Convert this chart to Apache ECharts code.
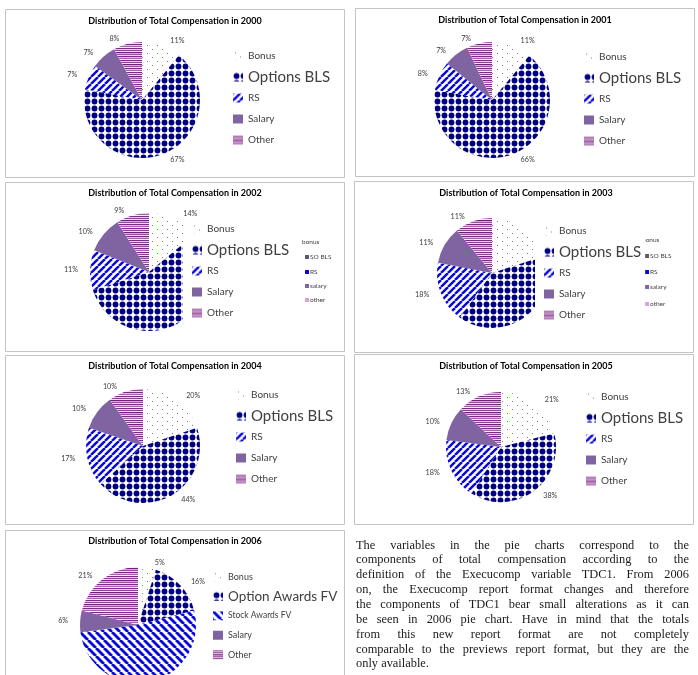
<!DOCTYPE html>
<html>
<head>
<meta charset="utf-8">
<script src="https://cdn.jsdelivr.net/npm/echarts@6/dist/echarts.min.js"></script>
<style>
  body { margin: 0; background: #fff; }
  #page { position: relative; width: 698px; height: 675px; overflow: hidden; }
  #chart { position: absolute; left: 0; top: 0; width: 698px; height: 675px; }
  #note { position: absolute; left: 356px; top: 537.6px; width: 333px;
          font-family: 'Liberation Serif', serif; font-size: 12.4px; color: #1a1a1a; }
  #note div { height: 14.85px; line-height: 14.85px; white-space: nowrap; text-align: justify; text-align-last: justify; }
  #note div.last { text-align-last: left; }
</style>
</head>
<body>
<div id="page">
  <div id="chart"></div>
  <div id="note"></div>
</div>
<script>
  // data (percent of total compensation)
  const years = ['2000', '2001', '2002', '2003', '2004', '2005', '2006']
  const names = ['Bonus', 'Options BLS', 'RS', 'Salary', 'Other']
  const names2006 = ['Bonus', 'Option Awards FV', 'Stock Awards FV', 'Salary', 'Other']
  const bonus   = [11, 11, 14, 20, 20, 21, 5]
  const options = [67, 66, 56, 40, 44, 38, 16]
  const rs      = [7, 8, 11, 18, 17, 18, 52]
  const salary  = [7, 7, 10, 11, 10, 10, 6]
  const other   = [8, 7, 9, 11, 10, 13, 21]
  const oldLegendNames = ['bonus', 'SO BLS', 'RS', 'salary', 'other']

  const noteLines = [
    'The variables in the pie charts correspond to the',
    'components of total compensation according to the',
    'definition of the Execucomp variable TDC1. From 2006',
    'on, the Execucomp report format changes and therefore',
    'the components of TDC1 bear small alterations as it can',
    'be seen in 2006 pie chart. Have in mind that the totals',
    'from this new report format are not completely',
    'comparable to the previews report format, but they are the',
    'only available.'
  ]

  // panel layout: box, title top, pie centre/radius, legend position
  const panels = [
    { box: [5, 9, 339, 168],   title: [175, 17],   center: [142, 100], r: 58, lg: [224, 44.5, 21],  hide: [] },
    { box: [355, 8, 339, 168], title: [525, 16],   center: [492, 100], r: 58, lg: [575, 45.5, 21],  hide: [] },
    { box: [5, 182, 339, 169], title: [175, 189],  center: [149, 272], r: 59, lg: [183, 217.5, 21], hide: [1], bg: true },
    { box: [354, 181, 339, 171], title: [526, 189], center: [492, 273], r: 55, lg: [535, 219.5, 21], hide: [0, 1], bg: true },
    { box: [5, 355, 339, 169], title: [175, 362],  center: [143, 446], r: 57, lg: [227, 383.5, 21], hide: [] },
    { box: [354, 354, 339, 170], title: [526, 362], center: [501, 447], r: 55, lg: [577, 385.5, 21], hide: [] },
    { box: [5, 530, 339, 160], title: [175, 537],  center: [138, 625], r: 58, lg: [204, 566, 19.5], hide: [2] }
  ]

  function pattern(w, h, draw) {
    const c = document.createElement('canvas')
    c.width = w
    c.height = h
    const ctx = c.getContext('2d')
    ctx.fillStyle = '#fff'
    ctx.fillRect(0, 0, w, h)
    draw(ctx, w, h)
    return { image: c, repeat: 'repeat' }
  }

  function stripes(size, back) {
    return pattern(size, size, (ctx, w, h) => {
      ctx.strokeStyle = '#0a0ad8'
      ctx.lineWidth = size * 0.36
      for (let k = -1; k <= 1; k++) {
        ctx.beginPath()
        if (back) {
          ctx.moveTo(k * w, 0)
          ctx.lineTo(k * w + w, h)
        } else {
          ctx.moveTo(k * w, h)
          ctx.lineTo(k * w + w, 0)
        }
        ctx.stroke()
      }
    })
  }

  const bonusFill = pattern(10, 8, ctx => {
    ctx.fillStyle = '#7a7a7a'
    ctx.fillRect(2, 1, 1, 1)
    ctx.fillRect(7, 5, 1, 1)
  })
  const optionsFill = pattern(7, 7, ctx => {
    ctx.fillStyle = '#000080'
    ctx.beginPath()
    ctx.arc(3.5, 3.5, 2.9, 0, Math.PI * 2)
    ctx.fill()
  })
  const rsFill = stripes(7, false)
  const stockFill = stripes(8, true)
  const salaryFill = '#8064a2'
  const otherRows = ['#7b2d85', '#e8cbe8', '#8e3f95', '#f3e0f3', '#6d2478', '#d8a8d8',
                     '#9a4da0', '#f0d8f0', '#7b2d85', '#e0bce0', '#a760ab', '#fbeefb']
  const otherFill = pattern(1, otherRows.length, ctx => {
    otherRows.forEach((c, i) => { ctx.fillStyle = c; ctx.fillRect(0, i, 1, 1) })
  })

  const fills = [bonusFill, optionsFill, rsFill, salaryFill, otherFill]
  const fills2006 = [bonusFill, optionsFill, stockFill, salaryFill, otherFill]

  const chart = echarts.init(document.getElementById('chart'), null, { renderer: 'canvas' })

  const titles = []
  const legends = []
  const series = []
  const graphics = []

  panels.forEach((p, idx) => {
    const is2006 = idx === 6
    const nm = is2006 ? names2006 : names
    const fl = is2006 ? fills2006 : fills
    const vals = [bonus[idx], options[idx], rs[idx], salary[idx], other[idx]]

    graphics.push({
      type: 'rect', z: 0, silent: true,
      shape: { x: p.box[0] + 0.5, y: p.box[1] + 0.5, width: p.box[2], height: p.box[3] },
      style: { fill: 'transparent', stroke: '#c3c3c3', lineWidth: 1 }
    })

    titles.push({
      text: 'Distribution of Total Compensation in ' + years[idx],
      left: p.title[0], top: p.title[1], textAlign: 'center', padding: 0,
      textStyle: { fontFamily: 'Lato', fontWeight: 'bold', fontSize: 9, color: '#000' }
    })

    series.push({
      type: 'pie',
      center: p.center,
      radius: p.r,
      startAngle: 90,
      clockwise: true,
      animation: false,
      emphasis: { disabled: true },
      data: nm.map((n, i) => ({
        name: n, value: vals[i],
        itemStyle: { color: fl[i] },
        label: { show: p.hide.indexOf(i) < 0 }
      })),
      label: {
        position: 'outside',
        formatter: q => q.value + '%',
        fontFamily: 'Lato', fontSize: 7.2, color: '#404040'
      },
      labelLine: { show: false, length: 5, length2: 2 }
    })

    legends.push({
      orient: 'vertical',
      left: p.lg[0], top: p.lg[1],
      padding: [1, 4, 2, 9],
      itemGap: 0, itemWidth: 10, itemHeight: 9,
      selectedMode: false,
      backgroundColor: p.bg ? '#fff' : 'transparent',
      textStyle: { fontFamily: 'Lato', color: '#404040' },
      data: nm.map((n, i) => {
        let fs = i === 1 ? 15 : 10
        if (is2006) fs = i === 1 ? 13.5 : (i === 2 ? 8.5 : 9)
        return { name: n, icon: 'rect', textStyle: { fontSize: fs, lineHeight: p.lg[2] } }
      })
    })
  })

  // leftover small legends from an older version of the 2002 and 2003 charts
  const oldLegendFills = [null, '#5a5a6a', '#0a0ad8', '#8064a2', '#d9a0d9']
  function oldLegend(x, ys) {
    oldLegendNames.forEach((n, i) => {
      if (oldLegendFills[i]) {
        graphics.push({
          type: 'rect', z: 0, silent: true,
          shape: { x: x + 3, y: ys[i] - 2, width: 4, height: 4 },
          style: { fill: oldLegendFills[i] }
        })
      }
      graphics.push({
        type: 'text', z: 0, silent: true,
        x: i === 0 ? x : x + 8, y: ys[i],
        style: { text: n, fill: '#404040', font: '6.5px Lato', verticalAlign: 'middle' }
      })
    })
  }
  oldLegend(302, [242, 257, 272, 286, 300])
  oldLegend(642, [240, 256, 272, 287, 304])

  chart.setOption({
    animation: false,
    title: titles,
    legend: legends,
    series: series,
    graphic: graphics
  })

  const note = document.getElementById('note')
  noteLines.forEach((t, i) => {
    const d = document.createElement('div')
    d.textContent = t
    if (i === noteLines.length - 1) d.className = 'last'
    note.appendChild(d)
  })
</script>
</body>
</html>
